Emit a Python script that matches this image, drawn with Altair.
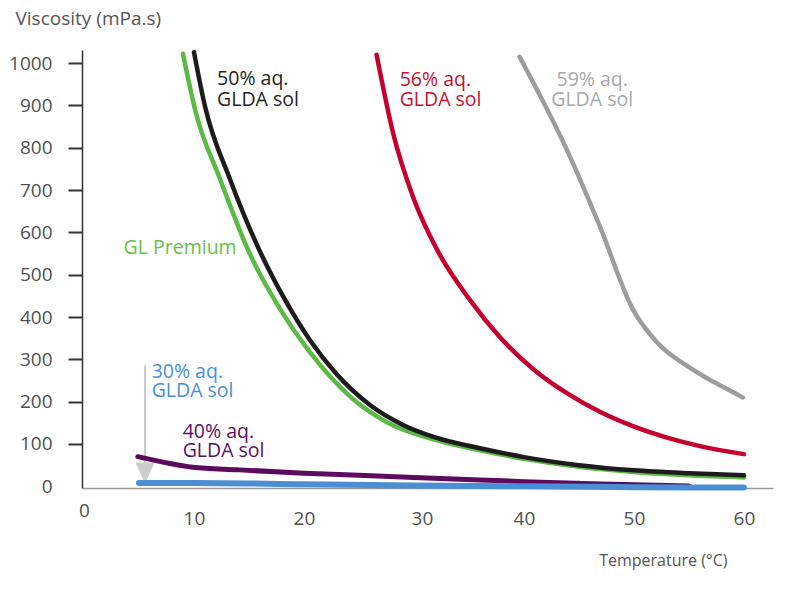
import altair as alt
import pandas as pd

# ---- data ----
gray_t = [39.6, 43.9, 46.9, 49.9, 52.1, 54.8, 56.6, 58.4, 59.9]
gray_v = [1015, 795, 614, 418, 340, 285, 256, 231, 210]

red_t = [26.6, 28.1, 29.9, 32.1, 35.1, 37.8, 40.8, 43.9, 46.9, 49.9, 53.0, 56.0, 60.0]
red_v = [1020, 835, 685, 559, 440, 353, 278, 220, 176, 142, 115, 95, 76]

green_t = [9.0, 10.1, 12.4, 15.1, 17.8, 20.5, 24.5, 27.5, 32.0, 36.0, 40.0, 45.0, 50.0, 55.0, 60.0]
green_v = [1022, 890, 724, 548, 420, 318, 205, 152, 109, 85, 65, 46, 34, 26, 21]

black_t = [10.0, 11.0, 13.3, 16.0, 18.4, 20.5, 23.0, 26.0, 29.0, 32.0, 36.0, 40.0, 45.0, 50.0, 55.0, 60.0]
black_v = [1026, 898, 724, 555, 435, 347, 264, 192, 145, 115, 90, 69, 50, 38, 31, 26]

purple_t = [4.9, 9.9, 14.0, 20.0, 25.0, 30.0, 36.0, 40.0, 45.0, 50.0, 55.0]
purple_v = [70, 45, 39, 31, 26, 21, 15, 11, 7, 3.5, 0.5]

blue_t = [5.0, 10.0, 20.0, 30.0, 40.0, 50.0, 60.0]
blue_v = [8, 8, 5, 2, 0, -2, -3]

# series: name, temps, values, colour, width (drawing order)
series = [
    ("59% aq. GLDA sol", gray_t, gray_v, "#9d9d9d", 4.5),
    ("56% aq. GLDA sol", red_t, red_v, "#c4002f", 4.5),
    ("GL Premium", green_t, green_v, "#5bb946", 4.5),
    ("50% aq. GLDA sol", black_t, black_v, "#1e1b1c", 4.5),
    ("40% aq. GLDA sol", purple_t, purple_v, "#5c0a5e", 5),
    ("30% aq. GLDA sol", blue_t, blue_v, "#4a8fd4", 6),
]

# annotation labels
lab_text = ["50% aq.", "GLDA sol", "56% aq.", "GLDA sol", "GL Premium",
            "30% aq.", "GLDA sol", "40% aq.", "GLDA sol"]
lab_t = [12.1, 12.1, 28.7, 28.7, 3.6, 6.15, 6.15, 8.97, 8.97]
lab_v = [962, 913, 960, 913, 563, 270, 225, 128, 83]
lab_col = ["#231f20", "#231f20", "#c8102e", "#c8102e", "#6abf4b",
           "#4a90d9", "#4a90d9", "#5b0f5f", "#5b0f5f"]

cen_text = ["59% aq.", "GLDA sol"]
cen_t = [46.2, 46.2]
cen_v = [960, 913]

arrow_t = [5.55]
arrow_top = [286]
arrow_bottom = [45]
arrow_head = [31]

FONT = "Open Sans"

x_scale = alt.Scale(domain=[-0.18, 62.64], nice=False, zero=False)
y_scale = alt.Scale(domain=[-4, 1031], nice=False, zero=False)

x_axis = alt.Axis(
    values=[0, 10, 20, 30, 40, 50, 60], format="d",
    title="Temperature (°C)",
    titleAlign="right", titleBaseline="middle", titleX=645, titleY=72,
    titleFont=FONT, titleFontSize=16, titleFontWeight="normal", titleColor="#555555",
    labelFont=FONT, labelFontSize=19, labelColor="#505050",
    ticks=False, tickSize=0,
    labelPadding={"condition": {"test": "datum.value == 0", "value": 13}, "value": 21},
    labelOffset={"condition": {"test": "datum.value == 30", "value": 8}, "value": 0},
    domainColor="#999999", domainWidth=1.5, grid=False,
)
y_axis = alt.Axis(
    values=list(range(0, 1001, 100)), format="d",
    title="Viscosity (mPa.s)",
    titleAngle=0, titleAlign="left", titleBaseline="middle", titleX=-67, titleY=-32,
    titleFont=FONT, titleFontSize=19, titleFontWeight="normal", titleColor="#555555",
    labelFont=FONT, labelFontSize=19, labelColor="#505050", labelPadding=16,
    tickSize=14, tickWidth=2, tickColor="#333333",
    tickOpacity={"condition": {"test": "datum.value == 0", "value": 0}, "value": 1},
    domainColor="#333333", domainWidth=1.5, grid=False,
)

layers = []
for name, ts, vs, col, w in series:
    d = pd.DataFrame({"t": ts, "v": vs, "s": name})
    layers.append(
        alt.Chart(d).mark_line(color=col, strokeWidth=w, interpolate="monotone",
                               strokeCap="round", strokeJoin="round")
        .encode(x=alt.X("t:Q", scale=x_scale, axis=x_axis),
                y=alt.Y("v:Q", scale=y_scale, axis=y_axis))
    )

arrow_df = pd.DataFrame({"t": arrow_t, "top": arrow_top, "bottom": arrow_bottom, "head": arrow_head})
shaft = alt.Chart(arrow_df).mark_rule(color="#cccccc", strokeWidth=2).encode(
    x=alt.X("t:Q", scale=x_scale, axis=x_axis),
    y=alt.Y("top:Q", scale=y_scale, axis=y_axis),
    y2="bottom:Q",
)
head = alt.Chart(arrow_df).mark_point(
    shape="M-0.9,-1L0.9,-1L0,1Z", size=450, filled=True, color="#cccccc", opacity=1
).encode(
    x=alt.X("t:Q", scale=x_scale, axis=x_axis),
    y=alt.Y("head:Q", scale=y_scale, axis=y_axis),
)

lab_df = pd.DataFrame({"t": lab_t, "v": lab_v, "txt": lab_text, "c": lab_col})
labels = alt.Chart(lab_df).mark_text(
    align="left", baseline="middle", font=FONT, fontSize=19.5
).encode(
    x=alt.X("t:Q", scale=x_scale, axis=x_axis),
    y=alt.Y("v:Q", scale=y_scale, axis=y_axis),
    text="txt:N",
    color=alt.Color("c:N", scale=None, legend=None),
)
cen_df = pd.DataFrame({"t": cen_t, "v": cen_v, "txt": cen_text})
cen_labels = alt.Chart(cen_df).mark_text(
    align="center", baseline="middle", font=FONT, fontSize=19.5, color="#a7a9ac"
).encode(
    x=alt.X("t:Q", scale=x_scale, axis=x_axis),
    y=alt.Y("v:Q", scale=y_scale, axis=y_axis),
    text="txt:N",
)

chart = alt.layer(shaft, head, *layers, labels, cen_labels).properties(
    width=691, height=438,
    autosize=alt.AutoSizeParams(type="none"),
    padding={"left": 74, "top": 42, "right": 10, "bottom": 90},
    background="white",
).configure_view(stroke=None)

chart.save("out.html", embed_options={"renderer": "svg", "actions": False})
